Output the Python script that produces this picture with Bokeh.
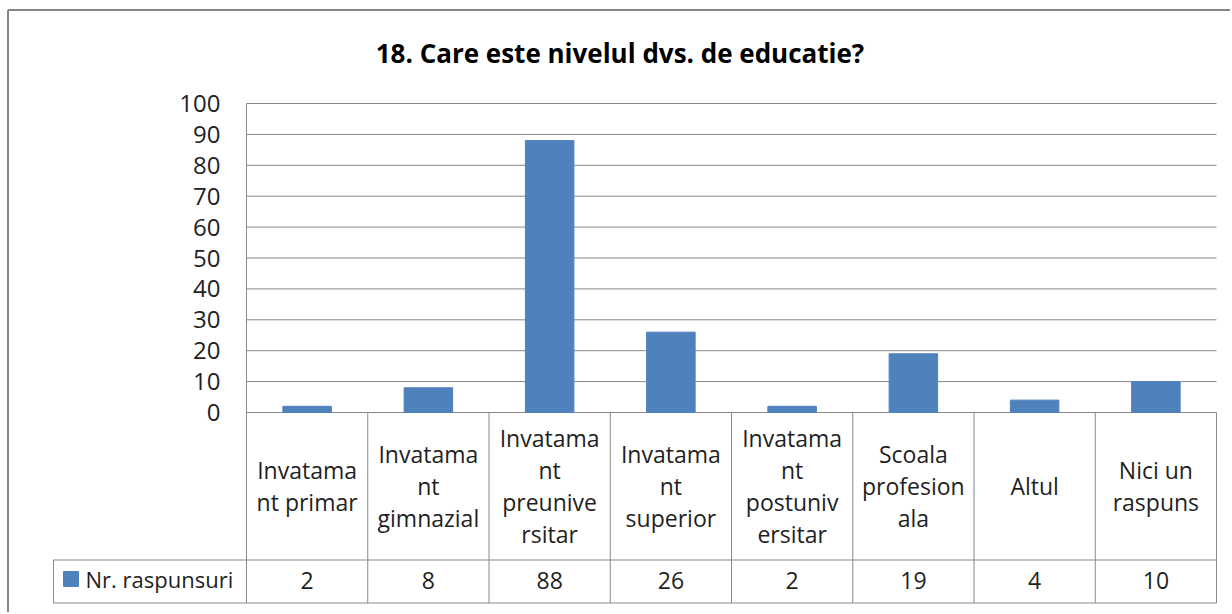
from bokeh.plotting import figure
from bokeh.models import Range1d, ColumnDataSource
from bokeh.core.properties import value
from bokeh.embed import file_html
from bokeh.resources import INLINE
import numpy as np

# ---------------- data ----------------
title_text = "18. Care este nivelul dvs. de educatie?"
categories = [
    "Invatamant primar",
    "Invatamant gimnazial",
    "Invatamant preuniversitar",
    "Invatamant superior",
    "Invatamant postuniversitar",
    "Scoala profesionala",
    "Altul",
    "Nici un raspuns",
]
category_labels = [
    "Invatama\nnt primar",
    "Invatama\nnt\ngimnazial",
    "Invatama\nnt\npreunive\nrsitar",
    "Invatama\nnt\nsuperior",
    "Invatama\nnt\npostuniv\nersitar",
    "Scoala\nprofesion\nala",
    "Altul",
    "Nici un\nraspuns",
]
series_name = "Nr. raspunsuri"
responses = [2, 8, 88, 26, 2, 19, 4, 10]
y_ticks = [0, 10, 20, 30, 40, 50, 60, 70, 80, 90, 100]
y_tick_labels = [str(t) for t in y_ticks]

# ---------------- style / layout ----------------
FONT = "Open Sans"
BAR = "#4F81BD"
LINE = "#898989"
BORDER = "#868686"
TXT = "#1f1f1f"
W, H = 1230, 612

n = len(categories)
# plot area in page pixels: x 246..1216 (n categories), y 103 (=100) .. 412 (=0)
PX_X = 970 / n
PX_Y = 309 / 100


def dx(px):
    return (px - 246) / PX_X


def dy(py):
    return (412 - py) / PX_Y


p = figure(width=W, height=H, x_range=Range1d(dx(0), dx(W)), y_range=Range1d(dy(H), dy(0)),
           output_backend="svg", toolbar_location=None,
           x_axis_location=None, y_axis_location=None, min_border=0)
p.outline_line_color = None
p.grid.visible = False
p.background_fill_color = "white"

# chart-area border (left + top)
p.segment(x0=[dx(7.5), dx(7.5)], y0=[dy(9.5), dy(9.5)], x1=[dx(7.5), dx(W)], y1=[dy(H), dy(9.5)],
          line_color=BORDER, line_width=2)

# title
p.text(x=[dx(619.5)], y=[dy(52)], text=[title_text], text_font=value(FONT),
       text_font_size="26px", text_font_style="bold", text_align="center",
       text_baseline="middle", text_color="#000000")

# horizontal gridlines (incl. baseline)
p.segment(x0=[0] * len(y_ticks), y0=y_ticks, x1=[n] * len(y_ticks), y1=y_ticks,
          line_color=LINE, line_width=1)

# y tick labels
p.text(x=[0] * len(y_ticks), y=y_ticks, text=y_tick_labels, x_offset=-26,
       text_font=value(FONT), text_font_size="24px", text_align="right",
       text_baseline="middle", text_color=TXT)

# bars
xc = np.arange(n) + 0.5
src = ColumnDataSource(dict(x=xc, top=responses, cat=categories,
                            lab=category_labels, val=[str(v) for v in responses]))
p.vbar(x="x", top="top", bottom=0, width=0.4, source=src, fill_color=BAR, line_color=BAR)

# ---------------- data table ----------------
row_mid = dy(559.5)
row_bot = dy(602.5)
legend_left = dx(53)
bounds = list(range(n + 1))
# vertical column lines (x=0 is also the value axis line)
p.segment(x0=[0], y0=[100], x1=[0], y1=[row_bot], line_color=LINE, line_width=1)
p.segment(x0=bounds[1:], y0=[0] * n, x1=bounds[1:], y1=[row_bot] * n,
          line_color=LINE, line_width=1)
# horizontal table lines + legend cell
p.segment(x0=[legend_left, legend_left, legend_left], y0=[row_mid, row_bot, row_bot],
          x1=[n, n, legend_left], y1=[row_mid, row_bot, row_mid],
          line_color=LINE, line_width=1)

p.text(x="x", y=dy(485), text="lab", source=src, text_font=value(FONT), text_font_size="23px",
       text_align="center", text_baseline="middle", text_color=TXT, text_line_height=1.0)
p.text(x="x", y=dy(580), text="val", source=src, text_font=value(FONT), text_font_size="23px",
       text_align="center", text_baseline="middle", text_color=TXT)

p.scatter(x=[dx(70.5)], y=[dy(578.5)], marker="square", size=15,
          fill_color=BAR, line_color=BAR)
p.text(x=[dx(85)], y=[dy(578)], text=[series_name], text_font=value(FONT),
       text_font_size="22px", text_align="left", text_baseline="middle", text_color=TXT)

open("out.html", "w").write(file_html(p, INLINE))
